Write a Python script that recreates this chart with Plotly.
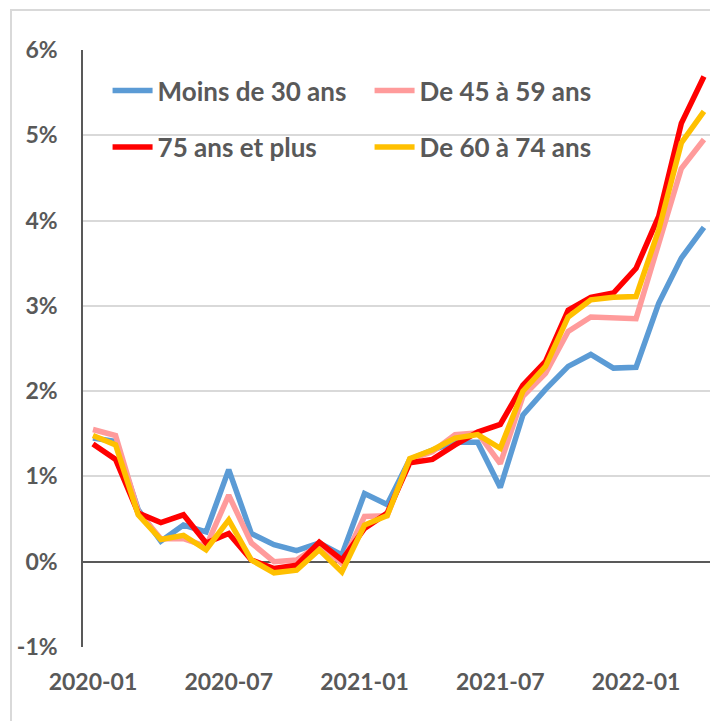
import plotly.graph_objects as go

months = ["2020-01", "2020-02", "2020-03", "2020-04", "2020-05", "2020-06",
          "2020-07", "2020-08", "2020-09", "2020-10", "2020-11", "2020-12",
          "2021-01", "2021-02", "2021-03", "2021-04", "2021-05", "2021-06",
          "2021-07", "2021-08", "2021-09", "2021-10", "2021-11", "2021-12",
          "2022-01", "2022-02", "2022-03", "2022-04"]

moins_30 = [1.45, 1.41, 0.61, 0.24, 0.43, 0.35, 1.08, 0.33, 0.20, 0.13, 0.22, 0.08,
            0.80, 0.67, 1.20, 1.31, 1.40, 1.40, 0.87, 1.72, 2.02, 2.29, 2.43, 2.27,
            2.28, 3.03, 3.56, 3.92]
de_45_59 = [1.55, 1.48, 0.59, 0.27, 0.27, 0.18, 0.78, 0.22, 0.00, 0.02, 0.20, -0.02,
            0.53, 0.54, 1.20, 1.29, 1.49, 1.51, 1.15, 1.94, 2.21, 2.70, 2.87, 2.86,
            2.85, 3.73, 4.61, 4.95]
plus_75 = [1.38, 1.20, 0.57, 0.46, 0.55, 0.22, 0.33, 0.02, -0.08, -0.04, 0.23, 0.02,
           0.39, 0.57, 1.16, 1.20, 1.37, 1.52, 1.61, 2.07, 2.35, 2.95, 3.10, 3.15,
           3.44, 4.05, 5.14, 5.69]
de_60_74 = [1.48, 1.37, 0.55, 0.26, 0.31, 0.14, 0.49, 0.02, -0.13, -0.10, 0.14, -0.12,
            0.43, 0.54, 1.21, 1.31, 1.45, 1.49, 1.33, 2.00, 2.29, 2.87, 3.07, 3.10,
            3.11, 3.89, 4.91, 5.28]

x_ticks = ["2020-01", "2020-07", "2021-01", "2021-07", "2022-01"]
y_ticks = [-1, 0, 1, 2, 3, 4, 5, 6]
y_tick_labels = ["-1%", "0%", "1%", "2%", "3%", "4%", "5%", "6%"]

series = [
    ("Moins de 30 ans", moins_30, "#5B9BD5", "legend"),
    ("De 45 à 59 ans", de_45_59, "#FF9B9B", "legend"),
    ("75 ans et plus", plus_75, "#FF0000", "legend2"),
    ("De 60 à 74 ans", de_60_74, "#FFC000", "legend2"),
]

TXT = "#595959"
FONT = dict(family="Lato", size=23, color=TXT, weight="bold")
LEG_FONT = dict(family="Lato", size=26, color=TXT, weight="bold")

fig = go.Figure()
for name, vals, col, leg in series:
    fig.add_trace(go.Scatter(x=months, y=vals, name=name, mode="lines",
                             line=dict(color=col, width=5.5), legend=leg))

legend_common = dict(orientation="h", xanchor="left", yanchor="middle",
                     bgcolor="rgba(0,0,0,0)", font=LEG_FONT, entrywidth=207,
                     itemwidth=40, tracegroupgap=0)

fig.update_layout(
    width=710, height=713,
    margin=dict(l=75, r=5, t=42, b=74),
    paper_bgcolor="white", plot_bgcolor="white",
    font=FONT,
    legend=dict(x=0.039, y=0.932, **legend_common),
    legend2=dict(x=0.039, y=0.8375, **legend_common),
    xaxis=dict(type="category", range=[-0.44, 27.4], tickvals=x_ticks,
               ticktext=x_ticks, showgrid=False, showline=False, ticks="",
               zeroline=False, tickfont=FONT, ticklabelstandoff=19),
    yaxis=dict(range=[-1, 6], tickvals=y_ticks, ticktext=y_tick_labels,
               showgrid=True, gridcolor="#D9D9D9", gridwidth=1.5,
               zeroline=True, zerolinecolor="#595959", zerolinewidth=1.5,
               showline=True, linecolor="#595959", linewidth=1.5,
               ticks="", tickfont=FONT, ticklabelstandoff=19),
    shapes=[dict(type="rect", xref="paper", yref="paper",
                 x0=-0.1143, x1=1.2, y0=1.067, y1=-0.3,
                 line=dict(color="#D9D9D9", width=2), layer="below")],
)

fig.write_html("out.html")
